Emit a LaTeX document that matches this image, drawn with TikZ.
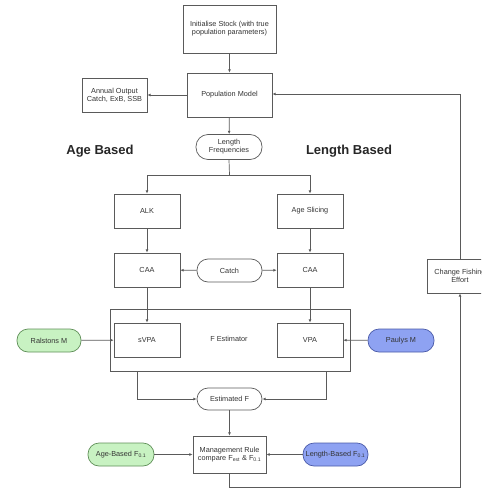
\documentclass[tikz,border=0pt]{standalone}
\usepackage{fontspec}
\setmainfont{Liberation Sans}
\usetikzlibrary{arrows.meta}
\definecolor{linegray}{HTML}{5A5A5A}
\definecolor{agefill}{HTML}{C8F2C2}
\definecolor{ageline}{HTML}{5F8F58}
\definecolor{lenfill}{HTML}{8EA2F2}
\definecolor{lenline}{HTML}{4A5AA8}
\tikzset{
  base/.style={draw=linegray, line width=0.7pt, align=center, inner sep=1pt,
    font=\fontsize{7.3}{8.2}\selectfont, text=black!80},
  box/.style={base, rectangle, minimum width=#1, minimum height=34pt},
  box/.default={66pt},
  pill/.style={base, rectangle, rounded corners=11pt, minimum width=66pt, minimum height=23pt},
  agepill/.style={pill, fill=agefill, draw=ageline},
  lenpill/.style={pill, fill=lenfill, draw=lenline},
  conn/.style={draw=linegray, line width=0.7pt},
  arr/.style={conn, -{Latex[length=3.2pt,width=2.8pt]}},
  heading/.style={font=\bfseries\fontsize{13}{15}\selectfont, text=black!85}
}
\begin{document}
\begin{tikzpicture}[x=1pt,y=-1pt]
\useasboundingbox (0,0) rectangle (481,489);
\clip (0,0) rectangle (481,489);

% main column
\node[box=93pt, minimum height=48pt] (init) at (229.5,29) {Initialise Stock (with true\\population parameters)};
\node[box=85pt, minimum height=44pt] (pop) at (229.5,95) {Population Model};
\node[box=65pt] (annual) at (114.5,95) {Annual Output\\Catch, ExB, SSB};
\node[pill, minimum height=25pt, rounded corners=12pt] (lf) at (229,147) {Length\\Frequencies};

\node[heading] (agehead) at (100,151) {Age Based};
\node[heading] (lenhead) at (349,151) {Length Based};

% two branches
\node[box] (alk) at (147,211) {ALK};
\node[box] (slice) at (310,211) {Age Slicing};
\node[box] (caaL) at (147,270) {CAA};
\node[box] (caaR) at (310,270) {CAA};
\node[pill, minimum width=65pt] (catch) at (229.5,270.5) {Catch};

% F estimator group
\node[base, rectangle, minimum width=240pt, minimum height=62pt] (fest) at (230,340) {};
\node[base, draw=none] (festlabel) at (229,339) {F Estimator};
\node[box] (svpa) at (147,340) {sVPA};
\node[box] (vpa) at (310,340) {VPA};
\node[agepill, minimum width=64pt] (ralston) at (49,340.5) {Ralstons M};
\node[lenpill] (pauly) at (401,340.5) {Paulys M};

\node[pill, minimum width=65pt, minimum height=22pt] (estF) at (229.5,399) {Estimated F};
\node[box=73pt, minimum height=37pt] (mgmt) at (229.5,454.5) {Management Rule\\compare F\textsubscript{est} \& F\textsubscript{0.1}};
\node[agepill] (ageF) at (121,454.5) {Age-Based F\textsubscript{0.1}};
\node[lenpill, minimum width=65pt] (lenF) at (335.5,454.5) {Length-Based F\textsubscript{0.1}};

\node[box] (change) at (460,276) {Change Fishing\\Effort};

% connectors
\draw[arr] (init) -- (pop);
\draw[arr] (pop) -- (annual);
\draw[arr] (pop) -- (lf);
\coordinate (split) at (229.5,175);
\draw[conn] (lf.south) -- (split);
\draw[arr] (split) -| (alk.north);
\draw[arr] (split) -| (slice.north);
\draw[arr] (alk) -- (caaL);
\draw[arr] (slice) -- (caaR);
\draw[arr] (catch) -- (caaL);
\draw[arr] (catch) -- (caaR);
\draw[arr] (caaL) -- (svpa);
\draw[arr] (caaR) -- (vpa);
\draw[arr] (ralston) -- (svpa);
\draw[arr] (pauly) -- (vpa);
\draw[arr] ([xshift=28pt]fest.south west) |- (estF.west);
\draw[arr] ([xshift=-24pt]fest.south east) |- (estF.east);
\draw[arr] (estF) -- (mgmt);
\draw[arr] (ageF) -- (mgmt);
\draw[arr] (lenF) -- (mgmt);
\coordinate (low) at (229.5,487);
\draw[arr] (mgmt.south) -- (low) -| (change.south);
\draw[arr] (change.north) |- ([yshift=1pt]pop.east);
\end{tikzpicture}
\end{document}
